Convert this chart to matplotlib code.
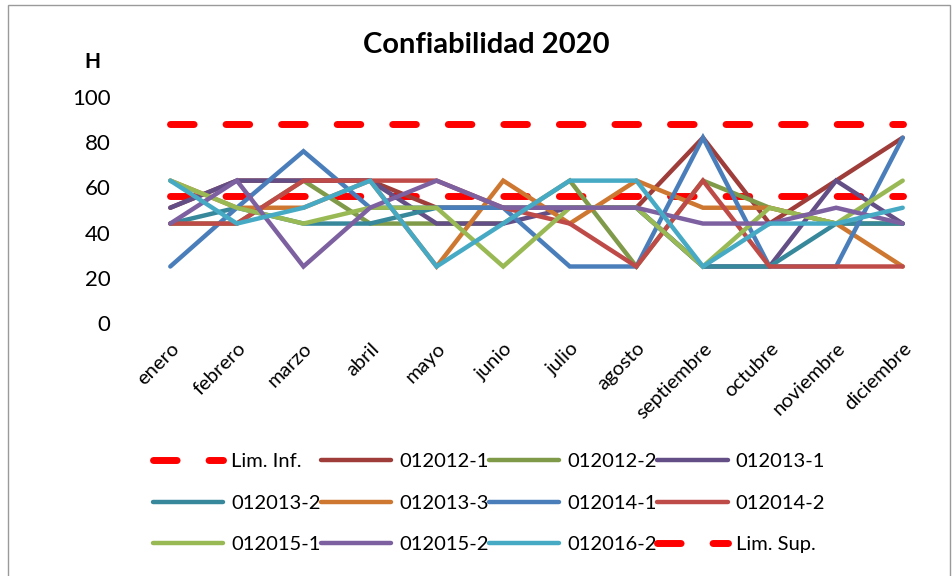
import matplotlib
matplotlib.use("Agg")
import matplotlib.pyplot as plt
from matplotlib.patches import Rectangle

plt.rcParams['font.family'] = ['Lato', 'DejaVu Sans']
plt.rcParams['lines.scale_dashes'] = False

months = ["enero", "febrero", "marzo", "abril", "mayo", "junio", "julio",
          "agosto", "septiembre", "octubre", "noviembre", "diciembre"]

lim_inf = [56.3] * 12
lim_sup = [88.0] * 12

s_012012_1 = [51, 63, 63, 63, 51, 51, 51, 51, 82, 44, 63, 82]
s_012012_2 = [44, 44, 63, 44, 44, 44, 63, 25, 63, 51, 44, 44]
s_012013_1 = [51, 63, 63, 63, 44, 44, 51, 51, 25, 25, 63, 44]
s_012013_2 = [44, 51, 44, 44, 51, 51, 51, 51, 25, 25, 44, 44]
s_012013_3 = [63, 51, 51, 63, 25, 63, 44, 63, 51, 51, 44, 25]
s_012014_1 = [25, 51, 76, 51, 51, 51, 25, 25, 82, 25, 25, 82]
s_012014_2 = [44, 44, 63, 63, 63, 51, 44, 25, 63, 25, 25, 25]
s_012015_1 = [63, 51, 44, 51, 51, 25, 51, 51, 25, 51, 44, 63]
s_012015_2 = [44, 63, 25, 51, 63, 51, 51, 51, 44, 44, 51, 44]
s_012016_2 = [63, 44, 51, 63, 25, 44, 63, 63, 25, 44, 44, 51]

series_names = ["012012-1", "012012-2", "012013-1", "012013-2", "012013-3",
                "012014-1", "012014-2", "012015-1", "012015-2", "012016-2"]
series_vals = [s_012012_1, s_012012_2, s_012013_1, s_012013_2, s_012013_3,
               s_012014_1, s_012014_2, s_012015_1, s_012015_2, s_012016_2]
series_colors = ["#9E3D3A", "#7F9A48", "#634E86", "#37889B", "#CD7731",
                 "#4A7EBB", "#BE4B48", "#98B954", "#7D60A0", "#46AAC5"]

W, H = 952, 576
fig = plt.figure(figsize=(W / 100, H / 100), dpi=100)
fig.patches.append(Rectangle((8 / W, -0.1), (W - 10) / W, 1.1 - 5 / H,
                             transform=fig.transFigure, fill=False,
                             edgecolor="#9a9a9a", linewidth=1.0))

ax = fig.add_axes([137 / W, (H - 323) / H, 799 / W, 226 / H])
x = list(range(len(months)))

handles = {}
dash = (17, 23)
h, = ax.plot(x, lim_inf, color="#FF0000", lw=5, dashes=dash,
             dash_capstyle="round", solid_capstyle="round", label="Lim. Inf.")
handles["Lim. Inf."] = h
for name, vals, col in zip(series_names, series_vals, series_colors):
    h, = ax.plot(x, vals, color=col, lw=3.2, solid_capstyle="round",
                 solid_joinstyle="miter", label=name)
    handles[name] = h
h, = ax.plot(x, lim_sup, color="#FF0000", lw=5, dashes=dash,
             dash_capstyle="round", label="Lim. Sup.")
handles["Lim. Sup."] = h

ax.set_xlim(-0.5, 11.5)
ax.set_ylim(0, 100)
ax.set_yticks([0, 20, 40, 60, 80, 100])
ax.set_xticks(x)
ax.set_xticklabels(months, rotation=45, ha="right", rotation_mode="anchor",
                   fontsize=14.5)
for lab in ax.get_yticklabels():
    lab.set_fontsize(16)
ax.tick_params(axis="y", length=0, pad=19)
ax.tick_params(axis="x", length=0, pad=12)
for sp in ax.spines.values():
    sp.set_visible(False)

fig.text(486 / W, 1 - 45 / H, "Confiabilidad 2020", ha="center", va="center",
         fontsize=21, fontweight="bold")
fig.text(92 / W, 1 - 62 / H, "H", ha="center", va="center",
         fontsize=15, fontweight="bold")

row_order = ["Lim. Inf.", "012012-1", "012012-2", "012013-1",
             "012013-2", "012013-3", "012014-1", "012014-2",
             "012015-1", "012015-2", "012016-2", "Lim. Sup."]
ncol, nrow = 4, 3
col_major = [row_order[r * ncol + c] for c in range(ncol) for r in range(nrow)]
leg = fig.legend([handles[n] for n in col_major], col_major, ncol=ncol,
                 loc="center", bbox_to_anchor=(489 / W, 1 - 503 / H),
                 frameon=False, fontsize=14.5, handlelength=3.5,
                 handletextpad=0.4, columnspacing=0.0, labelspacing=1.2)

fig.savefig("out.png", dpi=100)
